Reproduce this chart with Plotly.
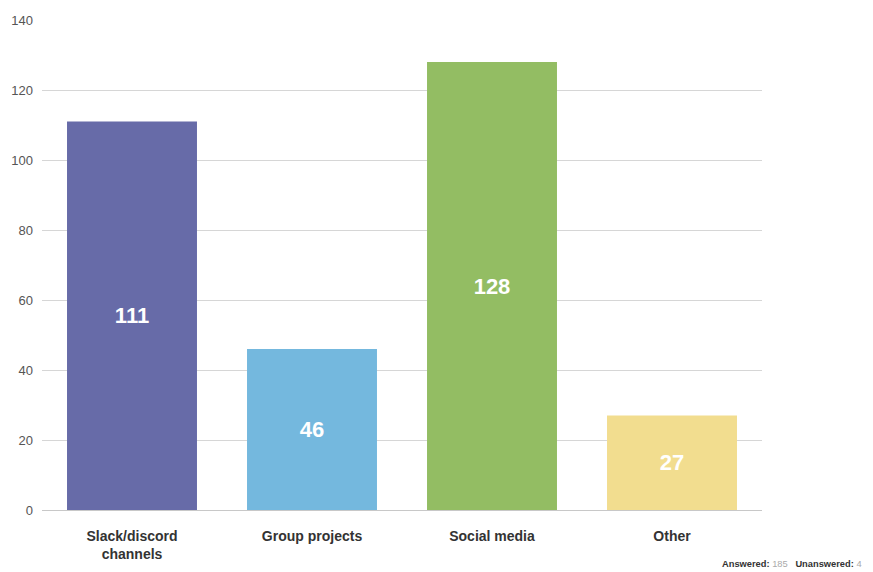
import plotly.graph_objects as go

categories = ["Slack/discord<br>channels", "Group projects", "Social media", "Other"]
responses = [111, 46, 128, 27]
bar_colors = ["#676ba8", "#74b8de", "#93bd63", "#f2dd8f"]
y_ticks = [0, 20, 40, 60, 80, 100, 120, 140]
answered = 185
unanswered = 4

fig = go.Figure(
    go.Bar(
        x=categories,
        y=responses,
        marker=dict(color=bar_colors, line=dict(width=0)),
        width=0.722,
        text=[str(v) for v in responses],
        textposition="inside",
        insidetextanchor="middle",
        textangle=0,
        textfont=dict(family="Liberation Sans, Arial, sans-serif", size=22, color="white", weight="bold"),
        hoverinfo="skip",
    )
)

fig.update_layout(
    width=873,
    height=572,
    margin=dict(l=42, r=111, t=20, b=62),
    paper_bgcolor="white",
    plot_bgcolor="white",
    showlegend=False,
    font=dict(family="Liberation Sans, Arial, sans-serif"),
    xaxis=dict(
        showgrid=False,
        showline=False,
        ticks="",
        automargin=False,
        tickfont=dict(size=14, color="#333333", weight="bold"),
        ticklabelstandoff=16,
    ),
    yaxis=dict(
        range=[0, 140],
        tickvals=y_ticks,
        automargin=False,
        showgrid=True,
        gridcolor="#d6d6d6",
        gridwidth=1,
        zeroline=True,
        zerolinecolor="#c8c8c8",
        zerolinewidth=1,
        showline=False,
        ticks="",
        tickfont=dict(size=13, color="#555555"),
        ticklabelstandoff=8,
    ),
    annotations=[
        dict(
            text=f"<b>Answered:</b> <span style='color:#aaaaaa'>{answered}</span>"
                 f"&nbsp;&nbsp;&nbsp;<b>Unanswered:</b> <span style='color:#aaaaaa'>{unanswered}</span>",
            xref="paper", yref="paper",
            x=1.142, y=-0.11,
            xanchor="right", yanchor="middle",
            showarrow=False,
            font=dict(size=9.3, color="#333333"),
        )
    ],
)

fig.write_html("out.html")
